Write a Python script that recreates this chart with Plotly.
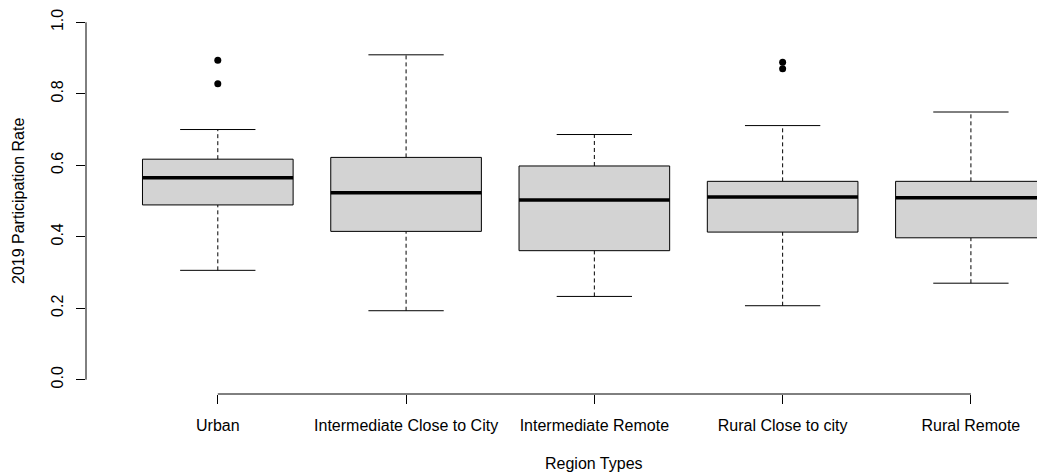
import plotly.graph_objects as go

categories = ["Urban", "Intermediate Close to City", "Intermediate Remote",
              "Rural Close to city", "Rural Remote"]
lower_whisker = [0.306, 0.193, 0.233, 0.207, 0.270]
q1 = [0.489, 0.415, 0.361, 0.413, 0.397]
median = [0.565, 0.523, 0.503, 0.511, 0.509]
q3 = [0.617, 0.622, 0.598, 0.555, 0.555]
upper_whisker = [0.700, 0.909, 0.686, 0.711, 0.749]
outlier_category = ["Urban", "Urban", "Rural Close to city", "Rural Close to city"]
outlier_value = [0.894, 0.828, 0.888, 0.870]

y_ticks = [0.0, 0.2, 0.4, 0.6, 0.8, 1.0]
x_title = "Region Types"
y_title = "2019 Participation Rate"

FONT = "Liberation Sans, Arial, sans-serif"
BOX_HALF = 0.4
CAP_HALF = 0.2
positions = list(range(1, len(categories) + 1))
pos_of = {c: p for c, p in zip(categories, positions)}

fig = go.Figure()

for p, lw, a, m, b, uw in zip(positions, lower_whisker, q1, median, q3, upper_whisker):
    # whiskers (dashed)
    fig.add_trace(go.Scatter(x=[p, p, None, p, p], y=[lw, a, None, b, uw], mode="lines",
                             line=dict(color="black", width=1, dash="4px,3px"),
                             hoverinfo="skip", showlegend=False))
    # caps
    fig.add_trace(go.Scatter(x=[p - CAP_HALF, p + CAP_HALF, None, p - CAP_HALF, p + CAP_HALF],
                             y=[lw, lw, None, uw, uw], mode="lines",
                             line=dict(color="black", width=1),
                             hoverinfo="skip", showlegend=False))
    # box
    fig.add_trace(go.Scatter(x=[p - BOX_HALF, p + BOX_HALF, p + BOX_HALF, p - BOX_HALF, p - BOX_HALF],
                             y=[a, a, b, b, a], mode="lines", fill="toself",
                             fillcolor="#D3D3D3", line=dict(color="black", width=1),
                             hoverinfo="skip", showlegend=False))
    # median
    fig.add_trace(go.Scatter(x=[p - BOX_HALF, p + BOX_HALF], y=[m, m], mode="lines",
                             line=dict(color="black", width=3.5),
                             hoverinfo="skip", showlegend=False))

fig.add_trace(go.Scatter(x=[pos_of[c] for c in outlier_category], y=outlier_value,
                         mode="markers", marker=dict(color="black", size=7),
                         hoverinfo="skip", showlegend=False))

fig.update_layout(
    width=1037, height=474,
    margin=dict(l=86, r=0, t=8, b=80),
    plot_bgcolor="white", paper_bgcolor="white",
    font=dict(family=FONT, size=16, color="black"),
    showlegend=False,
    xaxis=dict(range=[0.3, 5.351], tickmode="array", tickvals=positions, ticktext=categories,
               ticks="outside", ticklen=9, tickwidth=1, tickcolor="black",
               ticklabelstandoff=8,
               showgrid=False, zeroline=False, showline=False,
               tickfont=dict(family=FONT, size=16, color="black")),
    yaxis=dict(range=[-0.04, 1.04], tickmode="array", tickvals=y_ticks,
               ticktext=[f"{v:.1f}" for v in y_ticks], tickangle=-90,
               ticks="outside", ticklen=9, tickwidth=1, tickcolor="black",
               ticklabelstandoff=7,
               showgrid=False, zeroline=False, showline=False,
               tickfont=dict(family=FONT, size=16, color="black")),
    shapes=[
        dict(type="line", xref="paper", yref="y", x0=0, x1=0, y0=y_ticks[0], y1=y_ticks[-1],
             line=dict(color="black", width=1)),
        dict(type="line", xref="x", yref="paper", x0=positions[0], x1=positions[-1], y0=0, y1=0,
             line=dict(color="black", width=1)),
    ],
    annotations=[
        dict(text=x_title, xref="x", yref="paper", x=3, y=-0.179, showarrow=False,
             xanchor="center", yanchor="middle", font=dict(family=FONT, size=16, color="black")),
        dict(text=y_title, xref="paper", yref="y", x=-0.0715, y=0.5, showarrow=False,
             textangle=-90, xanchor="center", yanchor="middle",
             font=dict(family=FONT, size=16, color="black")),
    ],
)

fig.write_html("out.html")
